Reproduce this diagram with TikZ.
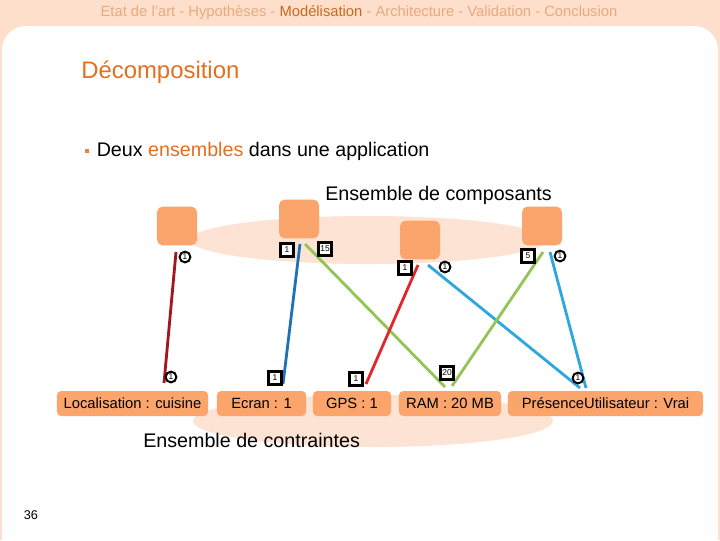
\documentclass[tikz,border=0pt]{standalone}
\usepackage{fontspec}
\setmainfont{Liberation Sans}
\usetikzlibrary{positioning}

% slide colours
\definecolor{peach}{HTML}{FDDFCB}
\definecolor{pale}{HTML}{FDE3D3}
\definecolor{boxorange}{HTML}{FBA46C}
\definecolor{titleorange}{HTML}{E2701E}
\definecolor{navlight}{HTML}{E9AA7E}
\definecolor{navdark}{HTML}{C9691F}
\definecolor{darkred}{HTML}{A3161F}
\definecolor{brightred}{HTML}{E1262D}
\definecolor{midblue}{HTML}{2171B5}
\definecolor{skyblue}{HTML}{2DA8DF}
\definecolor{lime}{HTML}{93C457}

\begin{document}
\begin{tikzpicture}[x=0.025cm, y=-0.025cm,
    comp/.style={fill=boxorange, rounded corners=4pt, minimum width=1cm, minimum height=0.97cm, inner sep=0},
    cons/.style={fill=boxorange, rounded corners=3pt, minimum height=0.625cm, inner sep=0, font=\fontsize{10.5}{12}\selectfont},
    link/.style={line width=2pt},
    rbadge/.style={circle, draw, line width=1.4pt, fill=white, inner sep=0, minimum size=0.27cm, font=\fontsize{6}{6}\selectfont},
    sbadge/.style={rectangle, draw, line width=1.6pt, fill=white, inner sep=0, minimum size=0.32cm, font=\fontsize{6}{6}\selectfont},
    bigtext/.style={font=\fontsize{14}{16}\selectfont, inner sep=0}]

    % Page frame: peach band with a white rounded sheet
    \useasboundingbox (0,0) rectangle (720,540);
    \fill[peach] (0,0) rectangle (720,540);
    \begin{scope}
        \clip (0,0) rectangle (720,540);
        \fill[white, rounded corners=0.6cm] (2,26) rectangle (718,600);
    \end{scope}

    % Navigation line
    \node[font=\fontsize{10.5}{12}\selectfont, text=navlight] (nav) at (359,13)
        {Etat de l'art - Hypothèses - \textcolor{navdark}{Modélisation} - Architecture - Validation - Conclusion};

    % Title and bullet
    \node[anchor=west, font=\fontsize{17}{20}\selectfont, text=titleorange, inner sep=0] (title) at (81,72) {Décomposition};
    \node[fill=titleorange!85, minimum size=0.1cm, inner sep=0] (bullet) at (87,151) {};
    \node[bigtext, right=0.18cm of bullet] (intro) {Deux \textcolor{titleorange}{ensembles} dans une application};

    % The two sets
    \fill[pale] (368,240) ellipse [x radius=178, y radius=24];
    \fill[pale] (373,421) ellipse [x radius=180, y radius=26];
    \node[bigtext, anchor=west] (compset) at (325,195) {Ensemble de composants};
    \node[bigtext, anchor=west] (consset) at (143,440) {Ensemble de contraintes};

    % Components
    \node[comp] (c1) at (177,226) {};
    \node[comp] (c2) at (299,219) {};
    \node[comp] (c3) at (420,240) {};
    \node[comp] (c4) at (542,226) {};

    % Links between components and constraints
    \foreach \i/\xa/\ya/\xb/\yb/\col in {1/176/252/164/383/darkred, 2/300/244/283/384/midblue,
        3/305/244/445/387/lime, 4/418/265/366/384/brightred, 5/428/265/580/388/skyblue,
        6/543/252/452/386/lime, 7/550/252/586/388/skyblue} {
        \coordinate (top\i) at (\xa,\ya);
        \coordinate (bot\i) at (\xb,\yb);
        \draw[link, \col] (top\i) -- (bot\i);
    }

    % Constraints
    \node[cons, minimum width=3.775cm] (loc) at (132.5,403.5) {Localisation : cuisine};
    \node[cons, minimum width=2.225cm] (ecran) at (261.5,403.5) {Ecran : 1};
    \node[cons, minimum width=1.95cm] (gps) at (352,403.5) {GPS : 1};
    \node[cons, minimum width=2.55cm] (ram) at (450,403.5) {RAM : 20 MB};
    \node[cons, minimum width=4.875cm] (pres) at (605.5,403.5) {PrésenceUtilisateur : Vrai};

    % Cardinalities
    \foreach \n/\x/\y in {r1/185/257, r2/171/377, r3/445/267, r4/560/256, r5/578/378}
        \node[rbadge] (\n) at (\x,\y) {1};
    \foreach \n/\x/\y/\t in {s1/287/250/1, s2/275/378/1, s3/405/268/1, s4/356/379/1,
        s5/325/249/15, s6/528/256/5, s7/447/373/20}
        \node[sbadge] (\n) at (\x,\y) {\t};

    % Page number
    \node[font=\fontsize{9}{10}\selectfont] (pagenum) at (31,515) {36};

\end{tikzpicture}
\end{document}
